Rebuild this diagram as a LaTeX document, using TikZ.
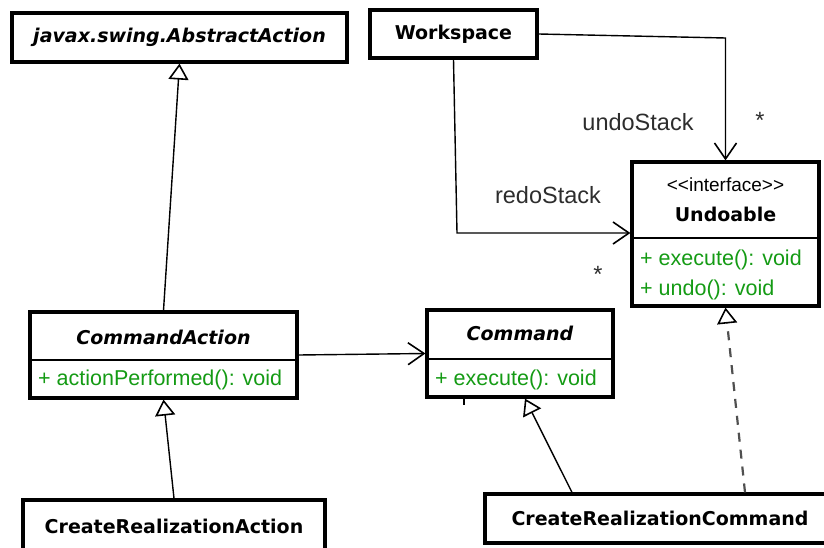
\documentclass[tikz,border=0pt]{standalone}
\usepackage{fontspec}
\setmainfont{Liberation Sans}
\newfontfamily\umlfont{DejaVu Sans}
\usetikzlibrary{arrows.meta}
\definecolor{opgreen}{RGB}{20,155,20}
\definecolor{labelgray}{RGB}{45,45,45}
\definecolor{dashgray}{RGB}{80,80,80}
\tikzset{
  classbox/.style={draw, line width=3.2pt, fill=white, inner sep=0pt},
  namefont/.style={font=\umlfont\bfseries\fontsize{19pt}{22pt}\selectfont},
  abstractfont/.style={font=\umlfont\bfseries\itshape\fontsize{19pt}{22pt}\selectfont},
  stereo/.style={font=\fontsize{19pt}{22pt}\selectfont, inner sep=0pt},
  operation/.style={font=\fontsize{21.5pt}{24pt}\selectfont, text=opgreen, inner sep=0pt, anchor=west},
  rolelabel/.style={font=\fontsize{23.5pt}{26pt}\selectfont, text=labelgray, inner sep=0pt},
  divider/.style={line width=1.4pt},
  conn/.style={line width=1.4pt},
  generalization/.style={conn, -{Triangle[open, length=16pt, width=20pt, line width=1.6pt]}},
  association/.style={conn, -{Straight Barb[length=16pt, width=22pt, line width=1.6pt]}},
  realization/.style={line width=2.2pt, draw=dashgray, dash pattern=on 9pt off 8pt,
    -{Triangle[open, length=16pt, width=20pt, line width=1.6pt, color=black]}}
}
\begin{document}
\begin{tikzpicture}[x=1pt, y=-1pt]
\clip (0,0) rectangle (824,548);
\fill[white] (0,0) rectangle (824,548);

% single-compartment classes
\node[classbox, abstractfont, minimum width=335pt, minimum height=49pt] (abs) at (179.5,37.5) {javax.swing.AbstractAction};
\node[classbox, namefont, minimum width=167pt, minimum height=48pt] (ws) at (453.5,34) {Workspace};
\node[classbox, namefont, minimum width=302pt, minimum height=52pt] (cra) at (174,526) {CreateRealizationAction};
\node[classbox, namefont, minimum width=350pt, minimum height=49pt] (crc) at (660,518.5) {CreateRealizationCommand};

% Undoable interface
\node[classbox, minimum width=187pt, minimum height=144pt] (und) at (725.5,234) {};
\draw[divider] (und.west |- 0,238) -- (und.east |- 0,238);
\node[stereo] (undst) at (725.5,185) {<\kern0pt<interface>\kern0pt>};
\node[namefont, inner sep=0pt] (undname) at (725.5,214) {Undoable};
\node[operation] (undop1) at (640,260) {+ execute(): void};
\node[operation] (undop2) at (640,290) {+ undo(): void};

% CommandAction
\node[classbox, minimum width=267pt, minimum height=86pt] (ca) at (163.5,355) {};
\draw[divider] (ca.west |- 0,360) -- (ca.east |- 0,360);
\node[abstractfont, inner sep=0pt] (caname) at (163.5,337) {CommandAction};
\node[operation] (caop) at (38,380) {+ actionPerformed(): void};

% Command
\node[classbox, minimum width=186pt, minimum height=87pt] (cmd) at (520,353.5) {};
\draw[divider] (cmd.west |- 0,359) -- (cmd.east |- 0,359);
\node[abstractfont, inner sep=0pt] (cmdname) at (520,333) {Command};
\node[operation] (cmdop) at (435,380) {+ execute(): void};

% associations from Workspace
\coordinate (ubend) at (725.5,38);
\coordinate (rbend) at (457,233);
\draw[association] (ws.east) -- (ubend) -- (und.north);
\draw[association] (ws.south) -- (rbend) -- (und.west |- rbend);
\node[rolelabel] (undolbl) at (638,122) {undoStack};
\node[rolelabel] (undomult) at (760,120) {*};
\node[rolelabel] (redolbl) at (548,195) {redoStack};
\node[rolelabel] (redomult) at (598,274) {*};

% CommandAction uses Command
\draw[association] (ca.east) -- (cmd.west);
\coordinate (stubtop) at (464,398);
\coordinate (stubbot) at (464,405);
\draw[conn] (stubtop) -- (stubbot);

% inheritance
\draw[generalization] (ca.north) -- (abs.south);
\draw[generalization] (cra.north) -- (ca.south);
\draw[generalization] ([xshift=-88pt]crc.north) -- ([xshift=5pt]cmd.south);
\draw[realization] ([xshift=85pt]crc.north) -- (und.south);
\end{tikzpicture}
\end{document}
